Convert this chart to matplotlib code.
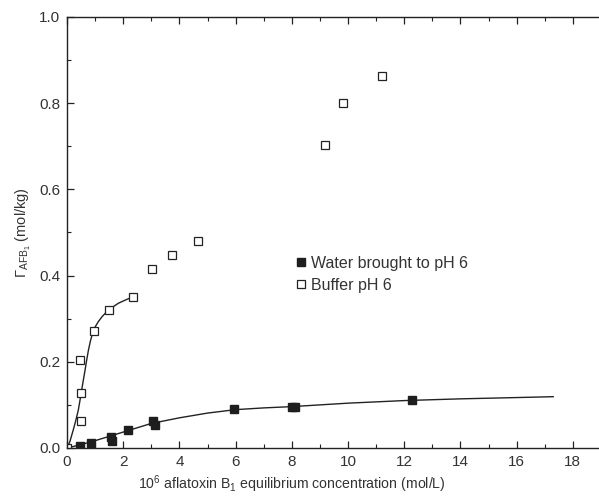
import numpy as np
import matplotlib.pyplot as plt
from matplotlib.ticker import MultipleLocator

plt.rcParams['font.family'] = ['Liberation Sans', 'DejaVu Sans']
plt.rcParams['mathtext.fontset'] = 'custom'
plt.rcParams['mathtext.rm'] = 'Liberation Sans'
plt.rcParams['mathtext.it'] = 'Liberation Sans:italic'

# water brought to pH 6 (filled squares)
water_x = [0.46, 0.85, 1.57, 1.60, 2.18, 3.07, 3.14, 5.95, 8.00, 8.12, 12.27]
water_y = [0.005, 0.012, 0.025, 0.016, 0.042, 0.063, 0.054, 0.090, 0.094, 0.095, 0.111]

# buffer pH 6 (open squares)
buffer_x = [0.0, 0.49, 0.50, 0.47, 0.94, 1.49, 2.36, 3.01, 3.75, 4.67, 9.19, 9.81, 11.19]
buffer_y = [0.0, 0.063, 0.128, 0.204, 0.272, 0.320, 0.351, 0.415, 0.447, 0.480, 0.704, 0.800, 0.863]

# fitted curves
water_fit_x = [0.0, 0.5, 1.0, 1.5, 2.0, 2.5, 3.0, 4.0, 5.0, 6.0, 7.0, 8.0, 10.0, 12.0, 14.0, 16.0, 17.3]
water_fit_y = [0.0, 0.008, 0.017, 0.027, 0.037, 0.047, 0.057, 0.070, 0.081, 0.089, 0.093, 0.096,
               0.104, 0.110, 0.114, 0.117, 0.119]
buffer_fit_x = [0.0, 0.1, 0.22, 0.31, 0.40, 0.46, 0.52, 0.58, 0.64, 0.70, 0.76, 0.83, 0.91, 1.0,
                1.11, 1.25, 1.41, 1.6, 1.83, 2.1, 2.36]
buffer_fit_y = [0.0, 0.015, 0.042, 0.064, 0.088, 0.111, 0.135, 0.158, 0.181, 0.205, 0.227, 0.248,
                0.267, 0.281, 0.293, 0.305, 0.316, 0.326, 0.336, 0.344, 0.351]

fig = plt.figure(figsize=(5.99, 4.96), dpi=100)
ax = fig.add_axes([0.112, 0.0968, 0.888, 0.869])

ax.plot(water_fit_x, water_fit_y, color='#222222', lw=1.0)
ax.plot(buffer_fit_x, buffer_fit_y, color='#222222', lw=1.0)
ax.plot(water_x, water_y, 's', ms=5.5, color='#1e1e1e', mec='#1e1e1e',
        label='Water brought to pH 6')
ax.plot(buffer_x, buffer_y, 's', ms=5.5, mfc='white', mec='#222222', mew=0.9,
        label='Buffer pH 6')

ax.set_xlim(0, 18.93)
ax.set_ylim(0, 1.0)
ax.xaxis.set_major_locator(MultipleLocator(2))
ax.xaxis.set_minor_locator(MultipleLocator(1))
ax.yaxis.set_major_locator(MultipleLocator(0.2))
ax.yaxis.set_minor_locator(MultipleLocator(0.1))
ax.yaxis.set_major_formatter(plt.FuncFormatter(lambda v, p: f'{v:.1f}'))
ax.tick_params(which='both', direction='in', top=True, labelsize=11, colors='#222222',
               labelcolor='#333333')
ax.tick_params(which='major', length=5, width=0.9, pad=5)
ax.tick_params(which='minor', length=3, width=0.8)
ax.spines['right'].set_visible(False)
for s in ['left', 'bottom', 'top']:
    ax.spines[s].set_linewidth(1.0)
    ax.spines[s].set_color('#222222')

ax.set_xlabel(r'10$^6$ aflatoxin B$_1$ equilibrium concentration (mol/L)', fontsize=10.2,
              color='#333333')
ax.xaxis.set_label_coords(0.423, -0.06)
ax.set_ylabel(r'$\Gamma_{\mathrm{AFB}_1}$ (mol/kg)', fontsize=10.5, color='#333333', labelpad=4)

ax.legend(loc='upper left', bbox_to_anchor=(0.41, 0.465), frameon=False, fontsize=11.5,
          handletextpad=0.1, handlelength=1.0, borderpad=0, labelspacing=0.45,
          labelcolor='#333333')

fig.savefig('out.png', dpi=100)
